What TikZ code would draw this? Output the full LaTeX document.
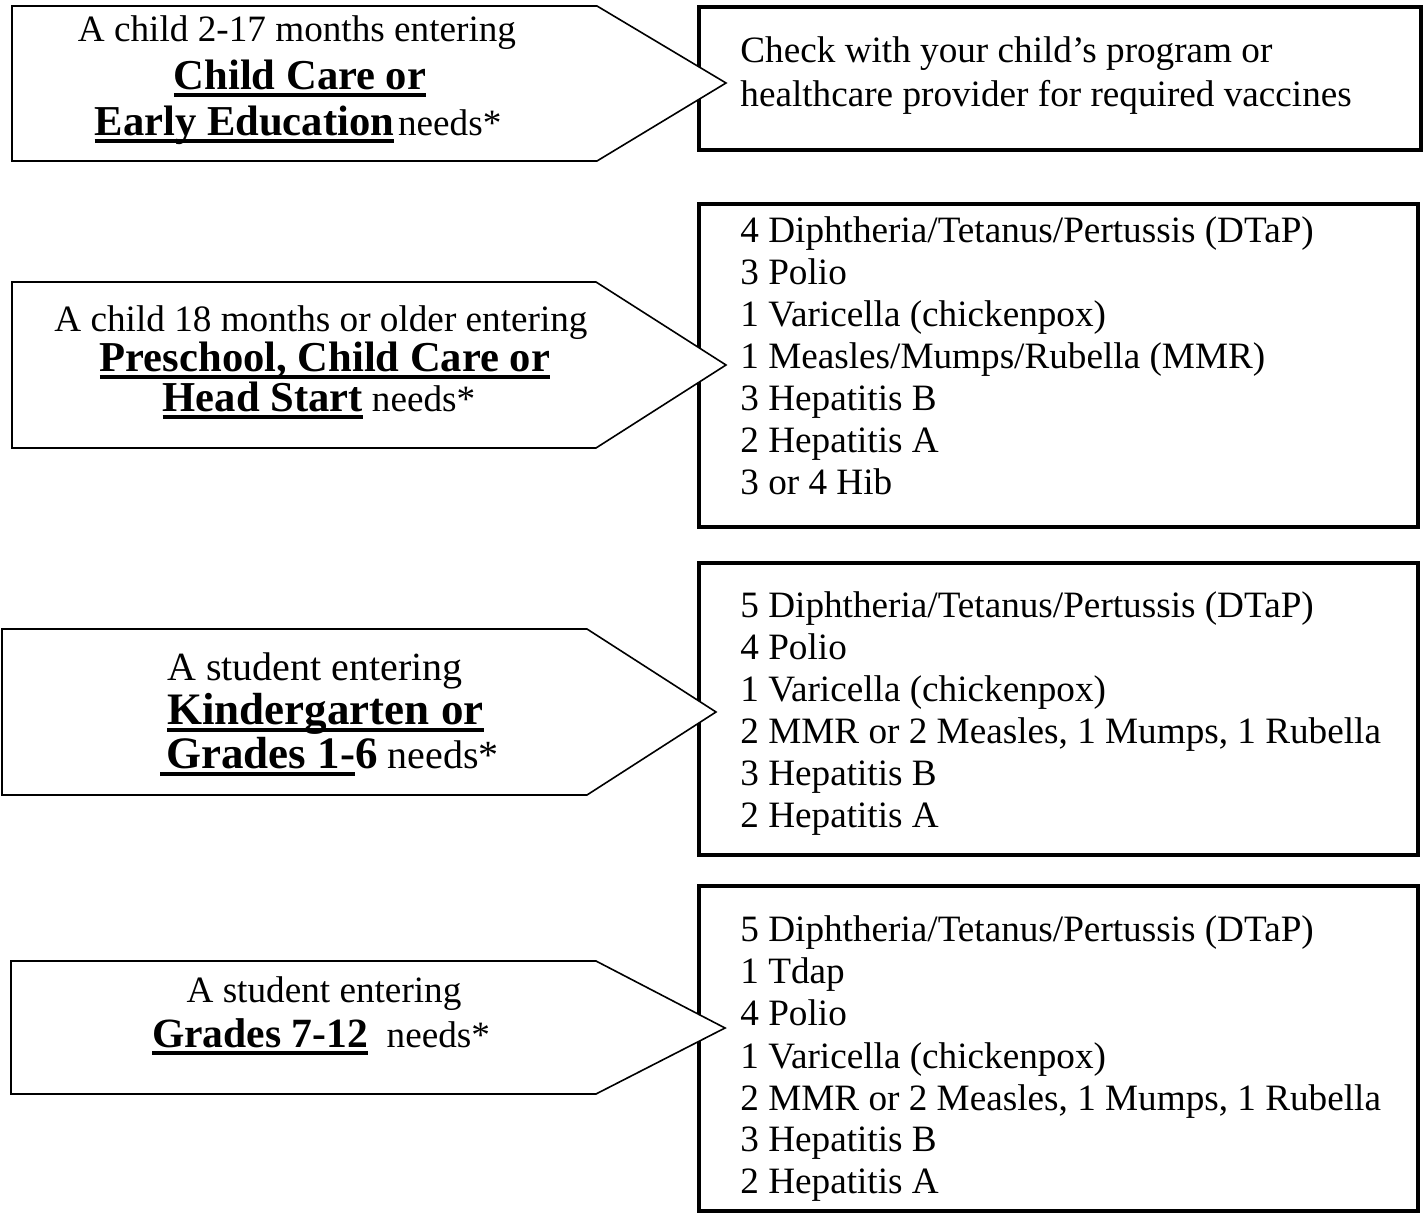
\documentclass[tikz,border=0pt]{standalone}
\usepackage{fontspec}
\setmainfont{Liberation Serif}
\newcommand{\thickul}[1]{\setbox0\hbox{#1}\rlap{\rule[-3.6pt]{\wd0}{2.2pt}}\box0}
\newcommand{\placename}[2][21.3]{{\fontsize{#1}{#1}\selectfont\bfseries\thickul{#2}}}
\tikzset{
  pointer/.style={draw, fill=white, line width=0.8pt, line join=miter},
  listbox/.style={draw, line width=2pt},
  plain/.style={inner sep=0pt, font=\fontsize{18.6}{21}\selectfont},
}
\begin{document}
\begin{tikzpicture}[x=0.5pt, y=-0.5pt]
\useasboundingbox (0,0) rectangle (1426,1213);
% boxes on the right
\draw[listbox] (699,7) rectangle (1421,150);
\draw[listbox] (699,204) rectangle (1418,527);
\draw[listbox] (699,563) rectangle (1418,855);
\draw[listbox] (699,886) rectangle (1418,1211);
% arrows on the left
\draw[pointer] (12,6) -- (597,6) -- (726,83) -- (597,161) -- (12,161) -- cycle;
\draw[pointer] (12,282) -- (596,282) -- (726,365) -- (596,448) -- (12,448) -- cycle;
\draw[pointer] (2,629) -- (587,629) -- (716,712) -- (587,795) -- (2,795) -- cycle;
\draw[pointer] (11,961) -- (596,961) -- (725,1028) -- (596,1094) -- (11,1094) -- cycle;
% child care
\node[plain, anchor=base] (care1) at (297,42) {A child 2-17 months entering};
\node[plain, anchor=base] (care2) at (300,90) {\placename{Child Care or}};
\node[plain, anchor=base] (care3) at (298,136) {\placename{Early Education}\kern2pt needs*};
\node[plain, anchor=base west] (check1) at (740,63) {Check with your child’s program or};
\node[plain, anchor=base west] (check2) at (740,107) {healthcare provider for required vaccines};
% preschool
\node[plain, anchor=base] (pre1) at (321,332) {A child 18 months or older entering};
\node[plain, anchor=base] (pre2) at (325,372) {\placename{Preschool, Child Care or}};
\node[plain, anchor=base] (pre3) at (319,412) {\placename{Head Start} needs*};
\node[plain, anchor=base west] (pv1) at (740,243) {4 Diphtheria/Tetanus/Pertussis (DTaP)};
\node[plain, anchor=base west] (pv2) at (740,285) {3 Polio};
\node[plain, anchor=base west] (pv3) at (740,327) {1 Varicella (chickenpox)};
\node[plain, anchor=base west] (pv4) at (740,369) {1 Measles/Mumps/Rubella (MMR)};
\node[plain, anchor=base west] (pv5) at (740,411) {3 Hepatitis B};
\node[plain, anchor=base west] (pv6) at (740,453) {2 Hepatitis A};
\node[plain, anchor=base west] (pv7) at (740,495) {3 or 4 Hib};
% kindergarten
\node[plain, anchor=base west, font=\fontsize{20}{22}\selectfont] (kg1) at (167,681) {A student entering};
\node[plain, anchor=base west] (kg2) at (167,725) {\placename[22.5]{Kindergarten or}};
\node[plain, anchor=base west, font=\fontsize{20}{22}\selectfont] (kg3) at (160,769) {\placename[22.5]{\kern3pt Grades 1-}{\fontsize{22.5}{22.5}\selectfont\bfseries 6} needs*};
\node[plain, anchor=base west] (kv1) at (740,618) {5 Diphtheria/Tetanus/Pertussis (DTaP)};
\node[plain, anchor=base west] (kv2) at (740,660) {4 Polio};
\node[plain, anchor=base west] (kv3) at (740,702) {1 Varicella (chickenpox)};
\node[plain, anchor=base west] (kv4) at (740,744) {2 MMR or 2 Measles, 1 Mumps, 1 Rubella};
\node[plain, anchor=base west] (kv5) at (740,786) {3 Hepatitis B};
\node[plain, anchor=base west] (kv6) at (740,828) {2 Hepatitis A};
% grades 7-12
\node[plain, anchor=base] (gr1) at (324,1002) {A student entering};
\node[plain, anchor=base] (gr2) at (321,1048) {\placename[20.8]{Grades 7-12}\ \ needs*};
\node[plain, anchor=base west] (gv1) at (740,942) {5 Diphtheria/Tetanus/Pertussis (DTaP)};
\node[plain, anchor=base west] (gv2) at (740,984) {1 Tdap};
\node[plain, anchor=base west] (gv3) at (740,1026) {4 Polio};
\node[plain, anchor=base west] (gv4) at (740,1068) {1 Varicella (chickenpox)};
\node[plain, anchor=base west] (gv5) at (740,1110) {2 MMR or 2 Measles, 1 Mumps, 1 Rubella};
\node[plain, anchor=base west] (gv6) at (740,1151) {3 Hepatitis B};
\node[plain, anchor=base west] (gv7) at (740,1193) {2 Hepatitis A};
\end{tikzpicture}
\end{document}
